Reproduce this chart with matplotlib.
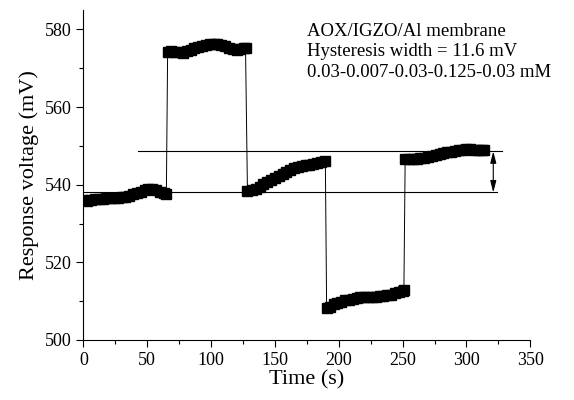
import numpy as np
import matplotlib
matplotlib.use('Agg')
from matplotlib import pyplot as plt

# Values (time in s, voltage in mV)
t_seg1 = [0, 3, 6, 9, 12, 15, 18, 21, 24, 27, 30, 33, 36, 39, 42, 45, 48, 51, 54, 57, 60, 63, 65]
v_seg1 = [536.0, 535.9, 536.1, 536.2, 536.3, 536.4, 536.5, 536.6, 536.6, 536.7, 536.8, 536.9,
          537.2, 537.6, 537.9, 538.0, 538.6, 539.0, 538.9, 538.7, 538.2, 537.8, 537.5]

t_seg2 = [66, 69, 72, 75, 78, 81, 84, 87, 90, 93, 96, 99, 102, 105, 108, 111, 114, 117, 120, 123, 126, 127]
v_seg2 = [574.2, 574.4, 574.3, 574.1, 574.0, 574.4, 574.8, 575.1, 575.5, 575.8, 576.0, 576.2,
          576.3, 576.2, 576.0, 575.6, 575.1, 574.9, 574.8, 574.9, 575.1, 575.1]

t_seg3 = [128.5, 132, 135, 138, 141, 144, 147, 150, 153, 156, 159, 162, 165, 168, 171, 174, 177, 180, 183, 186, 189.5]
v_seg3 = [538.3, 538.6, 539.0, 539.5, 540.1, 540.6, 541.1, 541.6, 542.2, 542.8, 543.3, 543.8,
          544.2, 544.5, 544.8, 545.0, 545.2, 545.4, 545.6, 545.8, 546.0]

t_seg4 = [190.5, 193, 196, 199, 202, 205, 208, 211, 214, 217, 220, 223, 226, 229, 232, 235, 238, 241, 244, 247, 250, 251]
v_seg4 = [508.2, 508.6, 509.2, 509.6, 509.9, 510.2, 510.4, 510.6, 510.8, 511.0, 511.1, 511.2,
          511.2, 511.2, 511.3, 511.3, 511.5, 511.7, 512.0, 512.3, 512.7, 512.9]

t_seg5 = [252, 255, 258, 261, 264, 267, 270, 273, 276, 279, 282, 285, 288, 291, 294, 297, 300, 303, 306, 309, 312, 314]
v_seg5 = [546.6, 546.7, 546.7, 546.6, 546.8, 547.0, 547.1, 547.4, 547.6, 547.9, 548.1, 548.3,
          548.5, 548.7, 548.9, 549.0, 549.1, 549.1, 549.0, 549.0, 548.9, 548.9]

# hysteresis reference levels
low_level = 538.0
high_level = 548.6

annot = ['AOX/IGZO/Al membrane', 'Hysteresis width = 11.6 mV', '0.03-0.007-0.03-0.125-0.03 mM']

plt.rcParams['font.family'] = ['Liberation Serif', 'DejaVu Serif']

time = t_seg1 + t_seg2 + t_seg3 + t_seg4 + t_seg5
volt = v_seg1 + v_seg2 + v_seg3 + v_seg4 + v_seg5

fig = plt.figure(figsize=(5.74, 4.0), dpi=100)
ax = fig.add_axes([0.1452, 0.15, 0.7787, 0.825])

ax.plot(time, volt, color='black', lw=0.7, marker='s', markersize=6.5,
        markerfacecolor='black', markeredgecolor='black')

# horizontal guide lines and the double arrow
ax.plot([0, 324], [low_level, low_level], color='black', lw=0.8)
ax.plot([43, 328], [high_level, high_level], color='black', lw=0.8)
ax.annotate('', xy=(321, low_level), xytext=(321, high_level),
            arrowprops=dict(arrowstyle='<|-|>,head_width=0.18,head_length=0.7',
                            color='black', lw=0.8, shrinkA=0, shrinkB=0))

ax.text(175, 581.6, '\n'.join(annot), fontsize=13.5, va='top', ha='left', linespacing=1.25)

ax.set_xlim(0, 350)
ax.set_ylim(500, 585)
ax.set_xticks(np.arange(0, 351, 50))
ax.set_xticks(np.arange(0, 351, 25), minor=True)
ax.set_yticks(np.arange(500, 581, 20))
ax.set_yticks(np.arange(500, 581, 10), minor=True)
ax.tick_params(which='major', length=5, width=0.8, labelsize=13, direction='out')
ax.tick_params(which='minor', length=3, width=0.8, direction='out')
for s in ['top', 'right']:
    ax.spines[s].set_visible(False)
for s in ['left', 'bottom']:
    ax.spines[s].set_linewidth(0.8)

ax.set_xlabel('Time (s)', fontsize=16, labelpad=1)
ax.set_ylabel('Response voltage (mV)', fontsize=16, labelpad=4)

plt.savefig('out.png', dpi=100)
